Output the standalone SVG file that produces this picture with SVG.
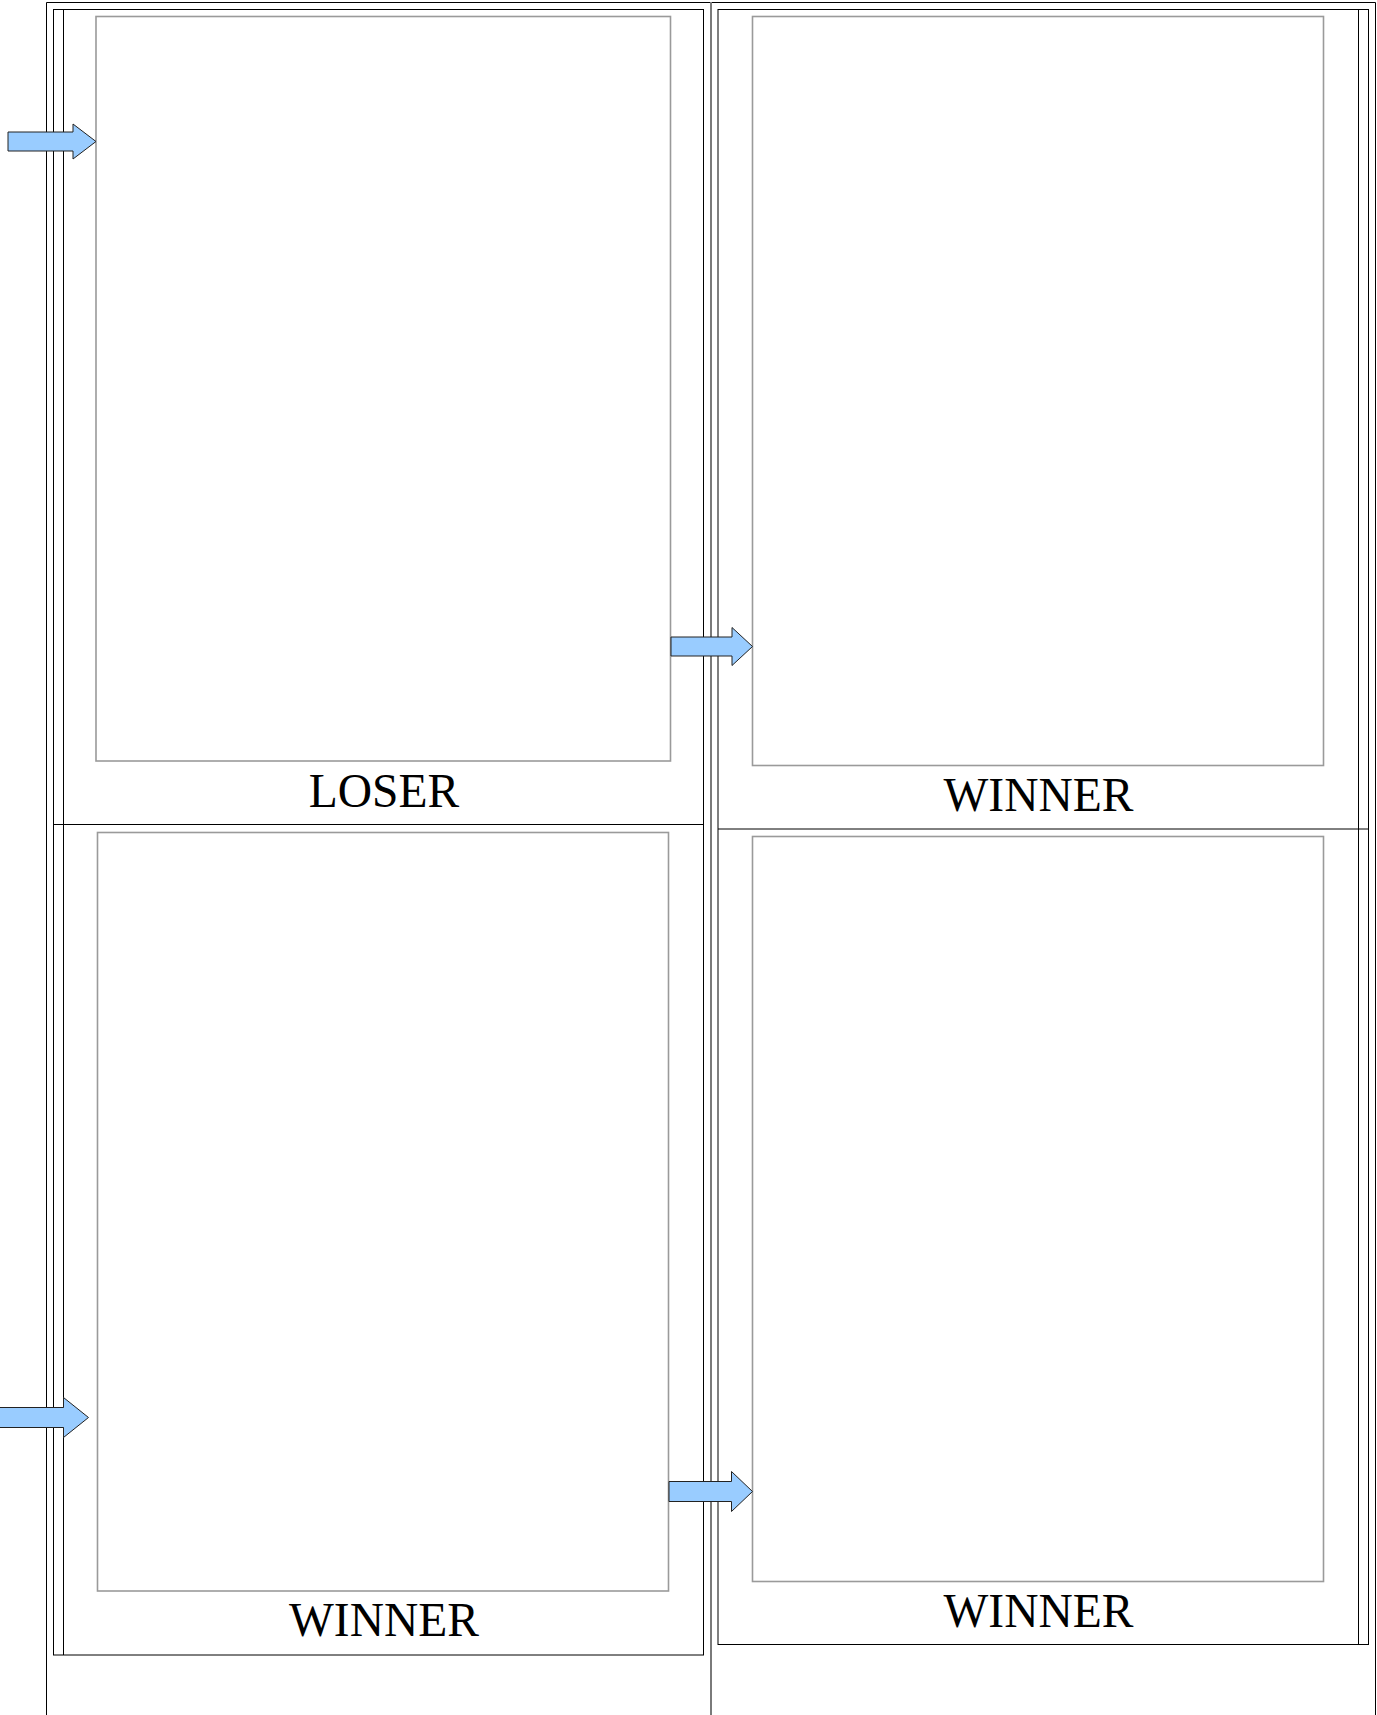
<svg xmlns="http://www.w3.org/2000/svg" width="1377" height="1715" viewBox="0 0 1377 1715">
<defs>
<style>
.frame{fill:none;stroke:#000;stroke-width:1}
.mid{fill:none;stroke:#7a7a7a;stroke-width:2}
.box{fill:#fff;stroke:#9a9a9a;stroke-width:1.6}
.lbl{font-family:"Liberation Serif",Tinos,"Times New Roman",serif;font-size:47.5px;fill:#000;text-anchor:middle}
.arrow{fill:#99ccff;stroke:#222;stroke-width:1}
</style>
</defs>
<rect width="1377" height="1715" fill="#fff"/>
<g id="frames">
<path class="frame" d="M46.5,1716 V2.5 H1375.5 V1716"/>
<line class="mid" x1="711" y1="2" x2="711" y2="1715"/>
<rect class="frame" x="53.5" y="9.5" width="650" height="1645.5"/>
<line class="frame" x1="63.5" y1="9.5" x2="63.5" y2="1655"/>
<line class="frame" x1="53.5" y1="824.5" x2="703.5" y2="824.5"/>
<rect class="frame" x="718" y="9.5" width="650.5" height="1635"/>
<line class="frame" x1="1358.5" y1="9.5" x2="1358.5" y2="1644.5"/>
<line class="frame" x1="718" y1="829" x2="1368.5" y2="829"/>
</g>
<g id="panel-top-left">
<rect class="box" x="96" y="16.5" width="574.5" height="744.5"/>
<text class="lbl" x="384" y="807">LOSER</text>
</g>
<g id="panel-top-right">
<rect class="box" x="752.5" y="16.5" width="571" height="749"/>
<text class="lbl" x="1038.5" y="810.5">WINNER</text>
</g>
<g id="panel-bottom-left">
<rect class="box" x="97.5" y="832.5" width="571" height="758.5"/>
<text class="lbl" x="384" y="1635.5">WINNER</text>
</g>
<g id="panel-bottom-right">
<rect class="box" x="752.5" y="836.5" width="571" height="745"/>
<text class="lbl" x="1038.5" y="1627">WINNER</text>
</g>
<g id="connectors">
<path class="arrow" d="M8,132 H73 V124 L96,141.5 L73,159 V151 H8 Z"/>
<path class="arrow" d="M671,637 H732 V627.5 L752.5,646.5 L732,665.5 V656 H671 Z"/>
<path class="arrow" d="M-2,1407.5 H63.5 V1397.5 L88.5,1417.5 L63.5,1437.5 V1427.5 H-2 Z"/>
<path class="arrow" d="M669,1481.5 H731.5 V1471.5 L752.5,1491.5 L731.5,1511.5 V1501.5 H669 Z"/>
</g>
</svg>
